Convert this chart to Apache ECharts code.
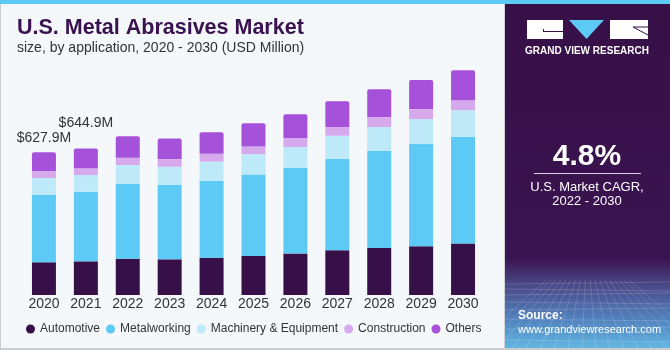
<!DOCTYPE html>
<html>
<head>
<meta charset="utf-8">
<script src="https://cdn.jsdelivr.net/npm/echarts@6/dist/echarts.min.js"></script>
<style>
html, body { margin: 0; padding: 0; background: #f4f8fb; }
#chart { width: 670px; height: 350px; }
</style>
</head>
<body>
<div id="chart"></div>
<script>
// data (USD Million)
var years = ['2020', '2021', '2022', '2023', '2024', '2025', '2026', '2027', '2028', '2029', '2030'];
var automotive   = [144, 148, 160, 157, 164, 172, 183, 197, 207, 214, 227];
var metalworking = [296, 306, 330, 328, 339, 358, 377, 403, 428, 450, 469];
var machinery    = [75, 74, 82, 79, 84, 90, 91, 101, 104, 110, 117];
var construction = [31, 30, 32, 34, 34, 33, 40, 38, 44, 44, 44];
var others       = [82, 87, 94, 91, 95, 103, 104, 114, 122, 128, 132];
var totalLabels  = ['$627.9M', '$644.9M'];

var colors = {
    automotive: '#381049',
    metalworking: '#5dcaf6',
    machinery: '#bee9f9',
    construction: '#d6a9ed',
    others: '#a651d9'
};

var fontFamily = '"Liberation Sans", Arial, sans-serif';

function $map(list, fn) {
    var out = [];
    for (var i = 0; i < list.length; i++) out.push(fn(list[i], i));
    return out;
}

/**
 * build one stacked bar series
 */
function barSeries(name, data, color, top) {
    var s = {
        name: name,
        type: 'bar',
        stack: 'total',
        barWidth: 24,
        data: data,
        itemStyle: { color: color },
        emphasis: { disabled: true }
    };
    if (top) {
        s.itemStyle.borderRadius = [2, 2, 0, 0];
        // total labels only on the first two bars
        s.data = $map(data, function(v, i) {
            if (i < totalLabels.length) {
                return {
                    value: v,
                    label: {
                        show: true,
                        position: 'top',
                        distance: i == 0 ? 7 : 18,
                        formatter: totalLabels[i],
                        color: '#333',
                        fontSize: 14,
                        fontFamily: fontFamily
                    }
                };
            }
            return v;
        });
    }
    return s;
}

// faint perspective mesh in the bottom of the side panel (decoration only)
function meshLines() {
    var g = [];
    var ys = [284, 289, 295, 302, 310, 319, 329, 340];
    for (var i = 0; i < ys.length; i++) {
        g.push({ type: 'line', z: 2, shape: { x1: 505, y1: ys[i], x2: 670, y2: ys[i] + (i % 2 ? 2 : -2) },
            style: { stroke: 'rgba(255,255,255,0.16)', lineWidth: 1 } });
    }
    for (var x = 470; x <= 720; x += 14) {
        g.push({ type: 'line', z: 2, shape: { x1: 587 + (x - 587) * 0.35, y1: 280, x2: x, y2: 348 },
            style: { stroke: 'rgba(255,255,255,0.14)', lineWidth: 1 } });
    }
    return g;
}

var chart = echarts.init(document.getElementById('chart'), null, { renderer: 'canvas' });

var graphics = [
    // frame
    { type: 'rect', z: -1, shape: { x: 0, y: 0, width: 1, height: 350 }, style: { fill: '#c9ccd0' } },
    { type: 'rect', z: 10, shape: { x: 0, y: 348, width: 670, height: 2 }, style: { fill: '#c9ccd0' } },
    { type: 'rect', z: 10, shape: { x: 0, y: 0, width: 670, height: 4 }, style: { fill: '#5dcaf6' } },
    // title
    {
        type: 'text', left: 17, top: 17,
        style: { text: 'U.S. Metal Abrasives Market', fill: '#3a1250', font: 'bold 21.5px ' + fontFamily }
    },
    {
        type: 'text', left: 17, top: 41,
        style: { text: 'size, by application, 2020 - 2030 (USD Million)', fill: '#333', font: '14px ' + fontFamily }
    },
    // right panel
    { type: 'rect', z: 1, shape: { x: 504, y: 0, width: 1, height: 350 }, style: { fill: '#cfd3d8' } },
    {
        type: 'rect', z: 1,
        shape: { x: 505, y: 4, width: 165, height: 344 },
        style: {
            fill: new echarts.graphic.LinearGradient(0, 0, 0, 1, [
                { offset: 0, color: '#371048' },
                { offset: 0.74, color: '#3a1450' },
                { offset: 0.82, color: '#4a4a8a' },
                { offset: 0.92, color: '#5284bf' },
                { offset: 1, color: '#62b6e2' }
            ])
        }
    },
    // logo
    { type: 'rect', z: 2, shape: { x: 527, y: 20, width: 36, height: 19 }, style: { fill: '#fff' } },
    { type: 'rect', z: 3, shape: { x: 543, y: 31, width: 20, height: 1 }, style: { fill: '#371048' } },
    { type: 'rect', z: 3, shape: { x: 543, y: 29, width: 1, height: 3 }, style: { fill: '#371048' } },
    { type: 'polygon', z: 2, shape: { points: [[569, 20], [604, 20], [586.5, 39]] }, style: { fill: '#5dcaf6' } },
    { type: 'rect', z: 2, shape: { x: 610, y: 20, width: 38, height: 19 }, style: { fill: '#fff' } },
    { type: 'polyline', z: 3, shape: { points: [[648, 27], [633, 27], [648, 35]] }, style: { stroke: '#371048', lineWidth: 1, fill: null } },
    {
        type: 'text', z: 3, x: 587, y: 51,
        style: { text: 'GRAND VIEW RESEARCH', fill: '#fff', font: 'bold 10px ' + fontFamily, textAlign: 'center', textVerticalAlign: 'middle' }
    },
    // CAGR
    {
        type: 'text', z: 3, x: 587, y: 157,
        style: { text: '4.8%', fill: '#fff', font: 'bold 30px ' + fontFamily, textAlign: 'center', textVerticalAlign: 'middle' }
    },
    { type: 'rect', z: 3, shape: { x: 534, y: 173, width: 107, height: 1 }, style: { fill: '#d9d2e0' } },
    {
        type: 'text', z: 3, x: 587, y: 187,
        style: { text: 'U.S. Market CAGR,', fill: '#fff', font: '13px ' + fontFamily, textAlign: 'center', textVerticalAlign: 'middle' }
    },
    {
        type: 'text', z: 3, x: 587, y: 201,
        style: { text: '2022 - 2030', fill: '#fff', font: '13px ' + fontFamily, textAlign: 'center', textVerticalAlign: 'middle' }
    },
    // source
    {
        type: 'text', z: 4, x: 518, y: 316,
        style: { text: 'Source:', fill: '#fff', font: 'bold 12px ' + fontFamily, textVerticalAlign: 'middle' }
    },
    {
        type: 'text', z: 4, x: 518, y: 330,
        style: { text: 'www.grandviewresearch.com', fill: '#fff', font: '11px ' + fontFamily, textVerticalAlign: 'middle' }
    }
].concat(meshLines());

var option = {
    backgroundColor: '#f4f8fb',
    animation: false,
    grid: { left: 23, right: 186, top: 45, bottom: 55 },
    xAxis: {
        type: 'category',
        data: years,
        axisLine: { show: false },
        axisTick: { show: false },
        axisLabel: { color: '#333', fontSize: 14, margin: 2, fontFamily: fontFamily }
    },
    yAxis: {
        type: 'value',
        min: 0,
        max: 1100,
        show: false,
        splitLine: { show: false }
    },
    legend: {
        left: 26,
        top: 323,
        padding: 0,
        icon: 'circle',
        itemWidth: 9,
        itemHeight: 9,
        itemGap: 6,
        textStyle: { color: '#333', fontSize: 12, fontFamily: fontFamily },
        data: ['Automotive', 'Metalworking', 'Machinery & Equipment', 'Construction', 'Others']
    },
    series: [
        barSeries('Automotive', automotive, colors.automotive),
        barSeries('Metalworking', metalworking, colors.metalworking),
        barSeries('Machinery & Equipment', machinery, colors.machinery),
        barSeries('Construction', construction, colors.construction),
        barSeries('Others', others, colors.others, true)
    ],
    graphic: graphics
};

chart.setOption(option);
</script>
</body>
</html>
